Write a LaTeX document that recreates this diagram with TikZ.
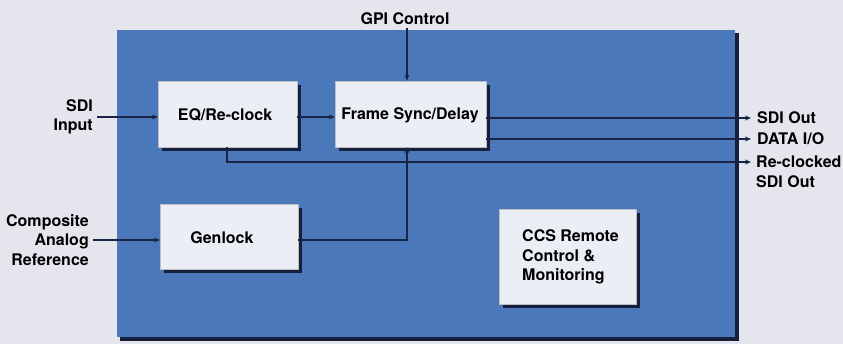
\documentclass[tikz,border=0pt]{standalone}
\usepackage{fontspec}
\setmainfont{TeX Gyre Heros}
\usetikzlibrary{arrows.meta}
\definecolor{bgc}{RGB}{228,229,237}
\definecolor{bluec}{RGB}{74,120,186}
\definecolor{boxc}{RGB}{236,238,245}
\definecolor{shadc}{RGB}{22,32,60}
\definecolor{linec}{RGB}{24,36,70}
\tikzset{
  txt/.style={font=\fontsize{16}{19.5}\selectfont\bfseries, text=black, inner sep=0pt},
  blk/.style={fill=boxc, draw=boxc!80!black, line width=0.4pt},
  conn/.style={draw=linec, line width=1.1pt, -{Stealth[length=6pt,width=5pt]}},
  plain/.style={draw=linec, line width=1.1pt}
}
\begin{document}
\begin{tikzpicture}[x=1pt,y=-1pt]
\useasboundingbox (0,0) rectangle (843,344);
\fill[bgc] (0,0) rectangle (843,344);
% main blue panel
\fill[shadc] (120,33) rectangle (739,341);
\fill[bluec] (117,30) rectangle (735,337);
% block shadows
\fill[shadc] (162,85) rectangle (301,151);
\fill[shadc] (339,85) rectangle (490,151);
\fill[shadc] (164,208) rectangle (302,273);
\fill[shadc] (503,213) rectangle (640,308);
% blocks
\node[blk, minimum width=139pt, minimum height=66pt, inner sep=0pt] (eq) at (227.5,114) {};
\node[txt] (eqt) at (225,115) {EQ/Re-clock};
\node[blk, minimum width=151pt, minimum height=66pt, inner sep=0pt] (fs) at (410.5,114) {};
\node[txt] (fst) at (410,115) {Frame Sync/Delay};
\node[blk, minimum width=138pt, minimum height=65pt, inner sep=0pt] (gl) at (229,236.5) {};
\node[txt] (glt) at (222,238) {Genlock};
\node[blk, minimum width=137pt, minimum height=95pt, inner sep=0pt] (ccs) at (567.5,256.5) {};
\node[txt, align=left, anchor=west] (ccst) at (522,257) {CCS Remote\\Control \&\\Monitoring};
% labels
\node[txt] (gpi) at (405,19) {GPI Control};
\node[txt, align=right, anchor=east] (sdiin) at (93,117) {SDI\\Input};
\node[txt, align=right, anchor=east] (comp) at (89,240) {Composite\\Analog\\Reference};
\node[txt, anchor=west] (sdiout) at (757,118) {SDI Out};
\node[txt, anchor=west] (data) at (757,139) {DATA I/O};
\node[txt, anchor=west, align=left] (reclk) at (756,172) {Re-clocked\\SDI Out};
% coordinates
\coordinate (inA) at (97,117);
\coordinate (inB) at (93,240);
\coordinate (gpiS) at (407,28);
\coordinate (o1) at (751,118);
\coordinate (o2) at (751,139);
\coordinate (o3) at (751,162);
% connectors
\draw[conn] (inA) -- (inA -| eq.west);
\draw[conn] (eq.east |- 0,117) -- (fs.west |- 0,117);
\draw[conn] (gpiS) -- (gpiS |- fs.north);
\draw[conn] (fs.east |- o1) -- (o1);
\draw[conn] (fs.east |- o2) -- (o2);
\draw[conn] (eq.south -| 227,0) |- (o3);
\draw[conn] (inB) -- (inB -| gl.west);
\draw[conn] (gl.east |- inB) -| (fs.south -| gpiS);
\end{tikzpicture}
\end{document}
